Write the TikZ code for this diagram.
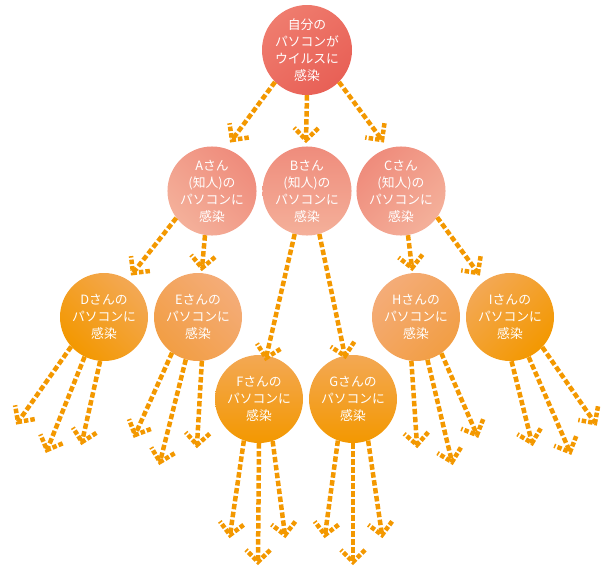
\documentclass[tikz,border=0pt]{standalone}
\usepackage{fontspec}
\newfontfamily\jpfont{Noto Sans CJK JP}
\definecolor{myorange}{RGB}{243,152,0}
\definecolor{myred}{RGB}{232,96,86}
\definecolor{myredlight}{RGB}{239,124,110}
\definecolor{mypink}{RGB}{239,140,124}
\definecolor{mypinklight}{RGB}{244,176,154}
\definecolor{myorlight}{RGB}{243,168,84}
\definecolor{mypeach}{RGB}{244,172,120}
\definecolor{mypeachdark}{RGB}{242,158,68}
\usetikzlibrary{calc}

\begin{document}
\begin{tikzpicture}[x=1pt,y=-1pt,line cap=butt]
	\tikzstyle{maru}=[circle,minimum size=88pt,inner sep=0pt,align=center,text=white,font=\jpfont\fontsize{12.8}{17}\selectfont];
	\tikzstyle{ten}=[myorange,line width=4.5pt,dash pattern=on 5.5pt off 2.5pt];
	\useasboundingbox (0,0) rectangle (605,566);
	% circles
	\node[maru,minimum size=90pt,top color=myredlight,bottom color=myred,shading angle=40] (top) at (307,50)  {自分の\\パソコンが\\ウイルスに\\感染};
	\node[maru,top color=mypink,bottom color=mypinklight,shading angle=-45] (A) at (212,191) {Aさん\\(知人)の\\パソコンに\\感染};
	\node[maru,top color=mypink,bottom color=mypinklight]                   (B) at (307,191) {Bさん\\(知人)の\\パソコンに\\感染};
	\node[maru,top color=mypink,bottom color=mypinklight,shading angle=45]  (C) at (401,191) {Cさん\\(知人)の\\パソコンに\\感染};
	\node[maru,top color=myorlight,bottom color=myorange,shading angle=-45] (D) at (104,317) {Dさんの\\パソコンに\\感染};
	\node[maru,top color=mypeach,bottom color=mypeachdark,shading angle=-45](E) at (198,317) {Eさんの\\パソコンに\\感染};
	\node[maru,top color=myorlight,bottom color=myorange]                   (F) at (259,399) {Fさんの\\パソコンに\\感染};
	\node[maru,top color=myorlight,bottom color=myorange]                   (G) at (353,399) {Gさんの\\パソコンに\\感染};
	\node[maru,top color=mypeach,bottom color=mypeachdark,shading angle=45] (H) at (416,317) {Hさんの\\パソコンに\\感染};
	\node[maru,top color=myorlight,bottom color=myorange,shading angle=45]  (I) at (510,317) {Iさんの\\パソコンに\\感染};
	% arrow tips
	\coordinate (t1) at (232,140);
	\coordinate (t2) at (306,140);
	\coordinate (t3) at (382,140);
	\coordinate (a1) at (133,273);
	\coordinate (a2) at (202,268);
	\coordinate (b1) at (266,358);
	\coordinate (b2) at (345,356);
	\coordinate (c1) at (412,268);
	\coordinate (c2) at (478,273);
	\coordinate (d1) at (18,422);
	\coordinate (d2) at (47,450);
	\coordinate (d3) at (82,442);
	\coordinate (e1) at (135,435);
	\coordinate (e2) at (160,462);
	\coordinate (e3) at (197,445);
	\coordinate (f1) at (230,535);
	\coordinate (f2) at (258,562);
	\coordinate (f3) at (285,535);
	\coordinate (g1) at (325,535);
	\coordinate (g2) at (353,562);
	\coordinate (g3) at (382,535);
	\coordinate (h1) at (417,445);
	\coordinate (h2) at (452,462);
	\coordinate (h3) at (477,435);
	\coordinate (i1) at (532,443);
	\coordinate (i2) at (570,452);
	\coordinate (i3) at (595,423);
	% dashed arrows
	\foreach \s/\t in {top.225/t1,top.270/t2,top.315/t3,
		A.217/a1,A.261/a2,B.254/b1,B.286/b2,C.279/c1,C.324/c2,
		D.222/d1,D.244/d2,D.265/d3,E.234/e1,E.254/e2,E.275/e3,
		F.250/f1,F.270/f2,F.288/f3,G.250/g1,G.270/g2,G.290/g3,
		H.264/h1,H.285/h2,H.305/h3,I.272/i1,I.295/i2,I.317/i3}{
		\draw[ten] (\s) -- (\t);
		\draw[ten,dash pattern=on 4.5pt off 2pt] ($(\t)!17pt!-45:(\s)$) -- (\t) -- ($(\t)!17pt!45:(\s)$);
	}
\end{tikzpicture}
\end{document}
